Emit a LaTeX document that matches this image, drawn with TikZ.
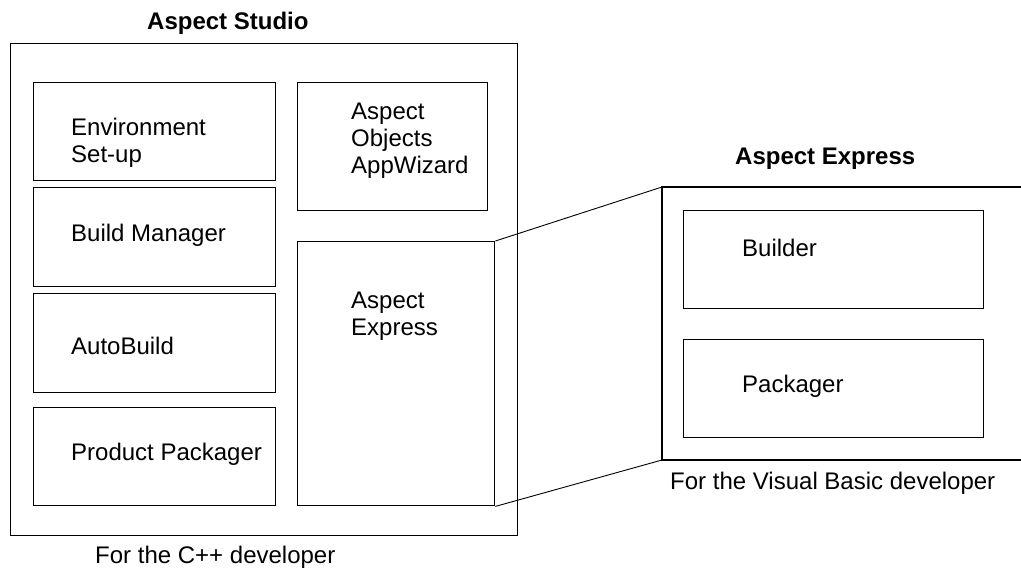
\documentclass[tikz,border=0pt]{standalone}
\usepackage{fontspec}
\setmainfont{Liberation Sans}
\begin{document}
\begin{tikzpicture}[x=1pt,y=-1pt,
  box/.style={draw,line width=1.4pt,anchor=north west,inner sep=0pt},
  lbl/.style={anchor=base west,inner sep=0pt,font=\fontsize{24}{27}\selectfont},
  ttl/.style={anchor=base west,inner sep=0pt,font=\fontsize{24}{27}\selectfont\bfseries},
  conn/.style={line width=0.9pt}]
\useasboundingbox (0,0) rectangle (1021,568);
% Aspect Studio
\node[box,minimum width=507pt,minimum height=492pt] (studio) at (10,43) {};
\node[ttl] (studiot) at (147,29) {Aspect Studio};
\node[box,minimum width=242pt,minimum height=98pt] (env) at (33,82) {};
\node[box,minimum width=242pt,minimum height=99pt] (bm) at (33,187) {};
\node[box,minimum width=242pt,minimum height=99pt] (ab) at (33,293) {};
\node[box,minimum width=242pt,minimum height=98pt] (pp) at (33,407) {};
\node[box,minimum width=190pt,minimum height=128pt] (aw) at (297,82) {};
\node[box,minimum width=197pt,minimum height=264pt] (ae) at (297,241) {};
\node[lbl] (envt1) at (71,135) {Environment};
\node[lbl] (envt2) at (71,162) {Set-up};
\node[lbl] (bmt) at (71,241) {Build Manager};
\node[lbl] (abt) at (71,354) {AutoBuild};
\node[lbl] (ppt) at (71,460) {Product Packager};
\node[lbl] (awt1) at (351,119) {Aspect};
\node[lbl] (awt2) at (351,146) {Objects};
\node[lbl] (awt3) at (351,173) {AppWizard};
\node[lbl] (aet1) at (351,308) {Aspect};
\node[lbl] (aet2) at (351,335) {Express};
\node[lbl] (studioc) at (95,563) {For the C++ developer};
% Aspect Express
\coordinate (rtl) at (662,187);
\coordinate (rbl) at (662,460);
\coordinate (rtr) at (1022,187);
\coordinate (rbr) at (1022,460);
\draw[line width=1.4pt] (rtr) -- (rtl) -- (rbl) -- (rbr);
\node[ttl] (expt) at (735,164) {Aspect Express};
\node[box,minimum width=300pt,minimum height=98pt] (bld) at (683,210) {};
\node[box,minimum width=300pt,minimum height=98pt] (pkg) at (683,339) {};
\node[lbl] (bldt) at (742,256) {Builder};
\node[lbl] (pkgt) at (742,392) {Packager};
\node[lbl] (expc) at (670,489) {For the Visual Basic developer};
% connectors
\draw[conn] (ae.north east) -- (rtl);
\draw[conn] (ae.south east) -- (rbl);
\end{tikzpicture}
\end{document}
